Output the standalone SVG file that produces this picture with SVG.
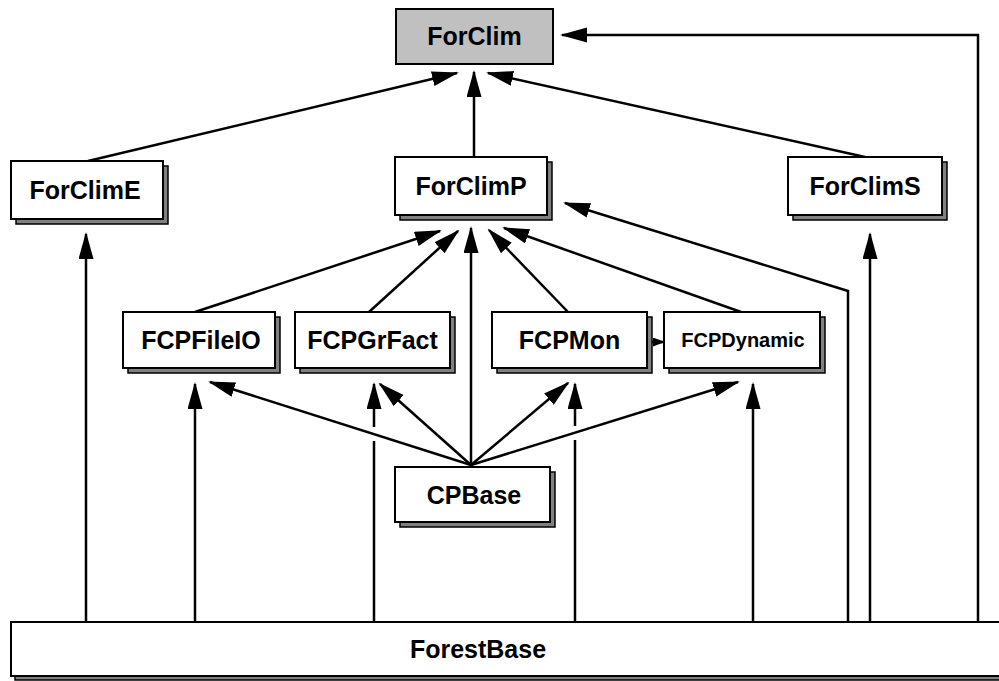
<svg xmlns="http://www.w3.org/2000/svg" width="999" height="681" viewBox="0 0 999 681">
  <style>
    .box { fill: #ffffff; stroke: #000000; stroke-width: 2; }
    .root { fill: #c0c0c0; stroke: #000000; stroke-width: 2; }
    .shadow { fill: #808080; stroke: #000000; stroke-width: 1.5; }
    .label { font-family: "Liberation Sans", Arial, sans-serif; font-weight: bold; font-size: 25px; fill: #000000; text-anchor: middle; }
    .small { font-size: 20px; }
    .edge { fill: none; stroke: #000000; stroke-width: 2.5; marker-end: url(#arrow); }
    .edge-short { fill: none; stroke: #000000; stroke-width: 2.5; marker-end: url(#arrow-small); }
  </style>
  <defs>
    <marker id="arrow" markerUnits="userSpaceOnUse" markerWidth="30" markerHeight="16" refX="25" refY="7.5" orient="auto">
      <path d="M0,0 L27,7.5 L0,15 z" fill="#000000"/>
    </marker>
    <marker id="arrow-small" markerUnits="userSpaceOnUse" markerWidth="14" markerHeight="10" refX="11" refY="4.5" orient="auto">
      <path d="M0,0 L12,4.5 L0,9 z" fill="#000000"/>
    </marker>
  </defs>

  <rect width="999" height="681" fill="#ffffff"/>

  <!-- connectors -->
  <g id="connectors">
    <path class="edge" d="M88,161 L457,73"/>
    <path class="edge" d="M474,157 L474,72"/>
    <path class="edge" d="M865,157 L488,73"/>
    <path class="edge" d="M978,622 L978,35 L562,35"/>
    <path class="edge" d="M86,622 L86,234"/>
    <path class="edge" d="M870,622 L870,234"/>
    <path class="edge" d="M848,622 L848,291 L565,203"/>
    <path class="edge" d="M195,312 L440,231"/>
    <path class="edge" d="M369,312 L458,231"/>
    <path class="edge" d="M471,467 L471,228"/>
    <path class="edge" d="M568,312 L489,230"/>
    <path class="edge" d="M741,312 L504,228"/>
    <path class="edge-short" d="M652,342 L664,342"/>
    <path class="edge" d="M471,465 L210,382"/>
    <path class="edge" d="M471,465 L380,384"/>
    <path class="edge" d="M471,465 L568,383"/>
    <path class="edge" d="M471,465 L738,382"/>
    <path class="edge" d="M195,622 L195,384"/>
    <path class="edge" d="M374,622 L374,441 M374,427 L374,384"/>
    <path class="edge" d="M575,622 L575,440 M575,426 L575,384"/>
    <path class="edge" d="M753,622 L753,384"/>
  </g>

  <!-- nodes -->
  <g id="ForClim">
    <rect class="root" x="396" y="9" width="157" height="55"/>
    <text class="label" x="474.5" y="45">ForClim</text>
  </g>

  <g id="ForClimE">
    <rect class="shadow" x="16" y="166" width="152" height="58"/>
    <rect class="box" x="11" y="161" width="152" height="58"/>
    <text class="label" x="85" y="199">ForClimE</text>
  </g>

  <g id="ForClimP">
    <rect class="shadow" x="400" y="162" width="152" height="58"/>
    <rect class="box" x="395" y="157" width="152" height="58"/>
    <text class="label" x="471" y="195">ForClimP</text>
  </g>

  <g id="ForClimS">
    <rect class="shadow" x="793" y="162" width="154" height="58"/>
    <rect class="box" x="788" y="157" width="154" height="58"/>
    <text class="label" x="865" y="195">ForClimS</text>
  </g>

  <g id="FCPFileIO">
    <rect class="shadow" x="128" y="317" width="152" height="56"/>
    <rect class="box" x="123" y="312" width="152" height="56"/>
    <text class="label" x="201" y="349">FCPFileIO</text>
  </g>

  <g id="FCPGrFact">
    <rect class="shadow" x="300" y="317" width="155" height="56"/>
    <rect class="box" x="295" y="312" width="155" height="56"/>
    <text class="label" x="372.5" y="349">FCPGrFact</text>
  </g>

  <g id="FCPMon">
    <rect class="shadow" x="497" y="317" width="155" height="56"/>
    <rect class="box" x="492" y="312" width="155" height="56"/>
    <text class="label" x="569.5" y="349">FCPMon</text>
  </g>

  <g id="FCPDynamic">
    <rect class="shadow" x="669" y="317" width="156" height="56"/>
    <rect class="box" x="664" y="312" width="156" height="56"/>
    <text class="label small" x="743" y="347">FCPDynamic</text>
  </g>

  <g id="CPBase">
    <rect class="shadow" x="400" y="472" width="155" height="55"/>
    <rect class="box" x="395" y="467" width="155" height="55"/>
    <text class="label" x="474" y="503.5">CPBase</text>
  </g>

  <g id="ForestBase">
    <rect class="shadow" x="15" y="626" width="1000" height="54"/>
    <rect class="box" x="11" y="622" width="1000" height="54"/>
    <text class="label" x="478" y="658">ForestBase</text>
  </g>
</svg>
